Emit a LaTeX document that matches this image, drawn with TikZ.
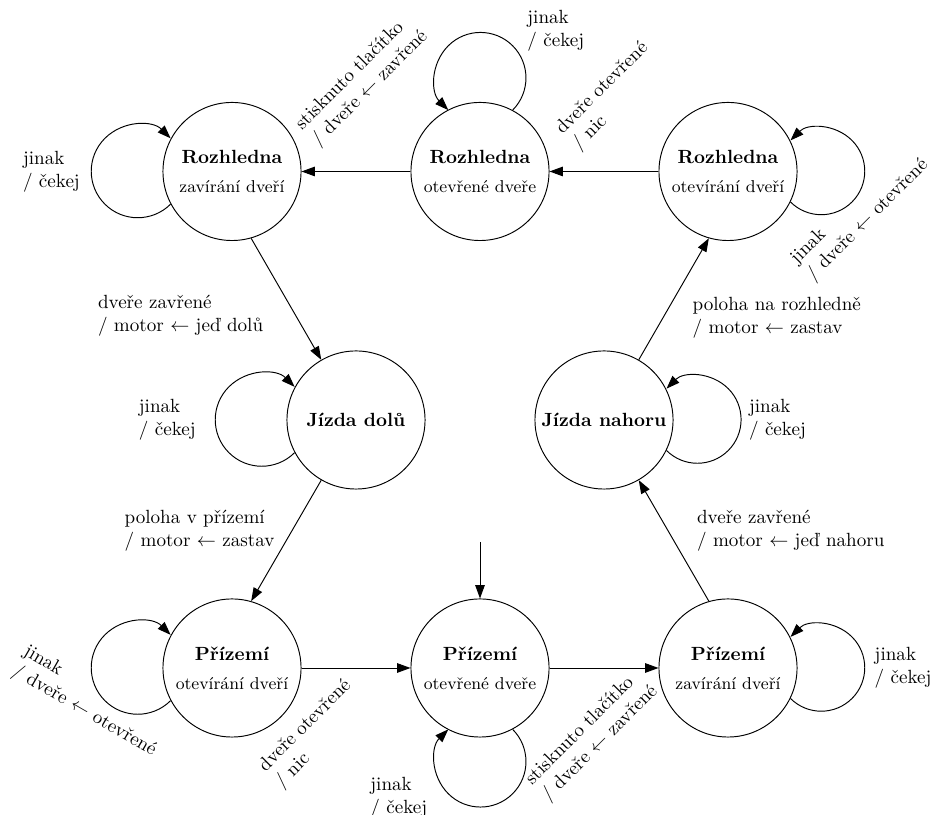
\documentclass[tikz,border=0pt]{standalone}
\usepackage{fontspec}
\usetikzlibrary{arrows.meta}
\begin{document}
\begin{tikzpicture}[x=0.5236pt,y=0.5236pt,
  state/.style={circle,draw,line width=0.5pt,minimum size=72.3pt,inner sep=0pt,align=center},
  lbl/.style={align=left,inner sep=0pt,anchor=north west},
  tr/.style={-{Triangle[length=7pt,width=5pt]},line width=0.5pt}]
\useasboundingbox (0,0) rectangle (934,815);

% states
\node[state] (rz) at (232,643.5) {\textbf{Rozhledna}\\[3.2pt]{\small zavírání dveří}};
\node[state] (ro) at (480,643.5) {\textbf{Rozhledna}\\[3.2pt]{\small otevřené dveře}};
\node[state] (rv) at (728,643.5) {\textbf{Rozhledna}\\[3.2pt]{\small otevírání dveří}};
\node[state] (jd) at (356,395) {\textbf{Jízda dolů}};
\node[state] (jn) at (604,395) {\textbf{Jízda nahoru}};
\node[state] (pv) at (232,147) {\textbf{Přízemí}\\[3.2pt]{\small otevírání dveří}};
\node[state] (po) at (480,147) {\textbf{Přízemí}\\[3.2pt]{\small otevřené dveře}};
\node[state] (pz) at (728,147) {\textbf{Přízemí}\\[3.2pt]{\small zavírání dveří}};

% transitions between states
\draw[tr] (ro.west) -- (rz.east);
\draw[tr] (rv.west) -- (ro.east);
\draw[tr] (rz.-74) -- (jd.120);
\draw[tr] (jd.-120) -- (pv.74);
\draw[tr] (pv.east) -- (po.west);
\draw[tr] (po.east) -- (pz.west);
\draw[tr] (pz.106) -- (jn.-60);
\draw[tr] (jn.60) -- (rv.-106);

% initial state
\coordinate (start) at (480,273);
\draw[tr] (start) -- (po.north);

% self loops
\draw[tr] (rz.208.5) arc[start angle=-45,end angle=-315,radius=46.5];
\draw[tr] (ro.62.1) arc[start angle=-45,end angle=225,radius=45.5];
\draw[tr] (rv.-26.5) arc[start angle=-135,end angle=135,radius=43.5];
\draw[tr] (jd.208.5) arc[start angle=-45,end angle=-315,radius=46.5];
\draw[tr] (jn.-26.5) arc[start angle=-135,end angle=135,radius=43.7];
\draw[tr] (pv.208.5) arc[start angle=-45,end angle=-315,radius=46.5];
\draw[tr] (po.-62.1) arc[start angle=45,end angle=-225,radius=45.5];
\draw[tr] (pz.-26.5) arc[start angle=-135,end angle=135,radius=43.5];

% transition labels
\node[lbl] (l1) at (22.7,664) {jinak\\/ čekej};
\node[lbl,rotate=45] (l2) at (292.3,693.9) {stisknuto tlačítko\\/ dveře $\leftarrow$ zavřené};
\node[lbl] (l3) at (527,805) {jinak\\/ čekej};
\node[lbl,rotate=45] (l4) at (552.6,689.9) {dveře otevřené\\/ nic};
\node[lbl,rotate=45] (l5) at (787.3,559.5) {jinak\\/ dveře $\leftarrow$ otevřené};
\node[lbl] (l6) at (97.7,520) {dveře zavřené\\/ motor $\leftarrow$ jeď dolů};
\node[lbl] (l7) at (138.5,416.5) {jinak\\/ čekej};
\node[lbl] (l8) at (692.3,518.3) {poloha na rozhledně\\/ motor $\leftarrow$ zastav};
\node[lbl] (l9) at (748.7,416.5) {jinak\\/ čekej};
\node[lbl] (l10) at (124.3,305) {poloha v přízemí\\/ motor $\leftarrow$ zastav};
\node[lbl] (l11) at (696.7,305) {dveře zavřené\\/ motor $\leftarrow$ jeď nahoru};
\node[lbl,rotate=-30] (l12) at (29.3,172.4) {jinak\\/ dveře $\leftarrow$ otevřené};
\node[lbl,rotate=45] (l13) at (255.7,52.2) {dveře otevřené\\/ nic};
\node[lbl] (l14) at (370,38.3) {jinak\\/ čekej};
\node[lbl,rotate=45] (l15) at (522.3,38.9) {stisknuto tlačítko\\/ dveře $\leftarrow$ zavřené};
\node[lbl] (l16) at (874.3,168.3) {jinak\\/ čekej};
\end{tikzpicture}
\end{document}
